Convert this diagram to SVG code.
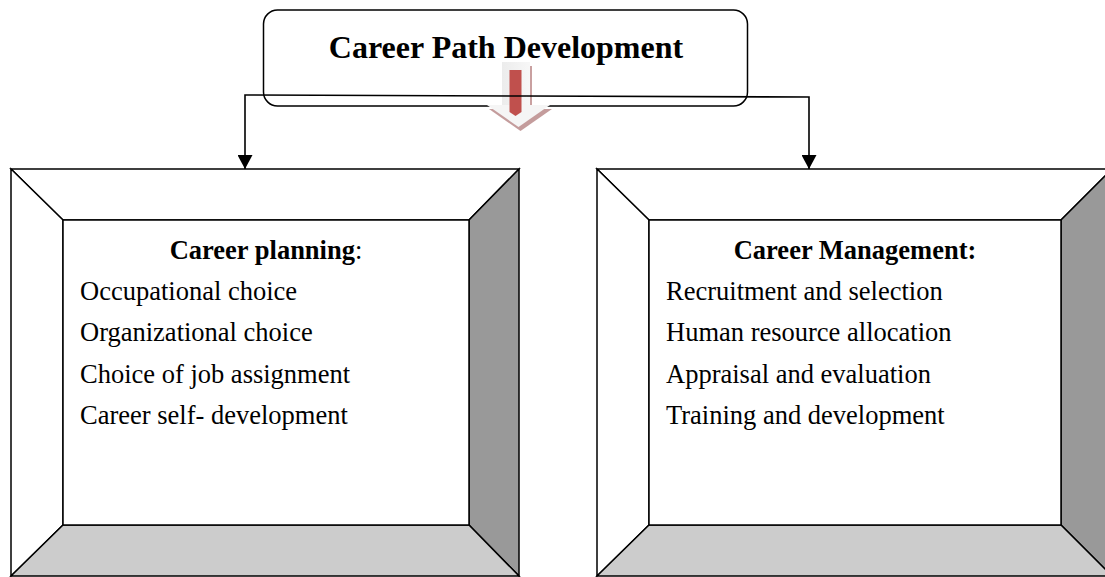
<svg xmlns="http://www.w3.org/2000/svg" width="1105" height="577" viewBox="0 0 1105 577">
  <style>
    .frame { stroke: #000; stroke-width: 1.5; stroke-linejoin: miter; }
    .light { fill: #ffffff; }
    .side { fill: #999999; }
    .base { fill: #cccccc; }
    .title { font-family: "Liberation Serif", "Times New Roman", serif; font-size: 32px; font-weight: bold; fill: #000; }
    .head { font-family: "Liberation Serif", "Times New Roman", serif; font-size: 26.5px; font-weight: bold; fill: #000; }
    .item { font-family: "Liberation Serif", "Times New Roman", serif; font-size: 26.5px; fill: #000; }
    .link { fill: none; stroke: #000; stroke-width: 1.6; }
  </style>
  <defs>
    <marker id="tip" markerUnits="userSpaceOnUse" markerWidth="15" markerHeight="15" refX="14" refY="7.5" orient="auto">
      <path d="M0,0 L14,7.5 L0,15 Z" fill="#000"/>
    </marker>
    <linearGradient id="shaftFill" x1="0" y1="0" x2="1" y2="0">
      <stop offset="0" stop-color="#ececec"/>
      <stop offset="1" stop-color="#f7f7f7"/>
    </linearGradient>
  </defs>

  <rect width="1105" height="577" fill="#fff"/>

  <!-- Top node -->
  <g id="node-career-path">
    <rect x="263.5" y="10" width="484" height="96" rx="14" ry="14" fill="#fff" stroke="#000" stroke-width="1.5"/>
    <text class="title" x="506" y="57.5" text-anchor="middle">Career Path Development</text>
  </g>

  <!-- Decorative block arrow under the title -->
  <g id="down-arrow">
    <rect x="504" y="66" width="28" height="41" fill="#c9a0a0"/>
    <rect x="502" y="62" width="28" height="44" fill="url(#shaftFill)"/>
    <polygon points="489,109 552,109 520.5,131" fill="#c49c9c"/>
    <polygon points="487,105 550,105 518.5,127" fill="#f5f5f5"/>
    <path d="M509.5,70 H521.5 V112 L515.5,116 L509.5,112 Z" fill="#c0504d"/>
  </g>

  <!-- Left node: bevelled frame -->
  <g id="node-career-planning">
    <polygon class="frame light" points="11,169 519,169 469,220 63,220"/>
    <polygon class="frame light" points="11,169 63,220 63,525 11,576"/>
    <polygon class="frame side" points="519,169 519,576 469,525 469,220"/>
    <polygon class="frame base" points="11,576 519,576 469,525 63,525"/>
    <rect class="frame light" x="63" y="220" width="406" height="305"/>
    <text class="head" x="266" y="259" text-anchor="middle">Career planning<tspan font-weight="normal">:</tspan></text>
    <text class="item" x="80" y="300">Occupational choice</text>
    <text class="item" x="80" y="341">Organizational choice</text>
    <text class="item" x="80" y="383">Choice of job assignment</text>
    <text class="item" x="80" y="424">Career self- development</text>
  </g>

  <!-- Right node: bevelled frame -->
  <g id="node-career-management">
    <polygon class="frame light" points="597,169 1112,169 1061,220 649,220"/>
    <polygon class="frame light" points="597,169 649,220 649,525 597,576"/>
    <polygon class="frame side" points="1112,169 1112,576 1061,525 1061,220"/>
    <polygon class="frame base" points="597,576 1112,576 1061,525 649,525"/>
    <rect class="frame light" x="649" y="220" width="412" height="305"/>
    <text class="head" x="855" y="259" text-anchor="middle">Career Management:</text>
    <text class="item" x="666" y="300">Recruitment and selection</text>
    <text class="item" x="666" y="341">Human resource allocation</text>
    <text class="item" x="666" y="383">Appraisal and evaluation</text>
    <text class="item" x="666" y="424">Training and development</text>
  </g>

  <!-- Connectors -->
  <g id="connectors">
    <path class="link" d="M527,96 L245,95 L245,169" marker-end="url(#tip)"/>
    <path class="link" d="M527,96 L809,97 L809,169" marker-end="url(#tip)"/>
  </g>
</svg>
